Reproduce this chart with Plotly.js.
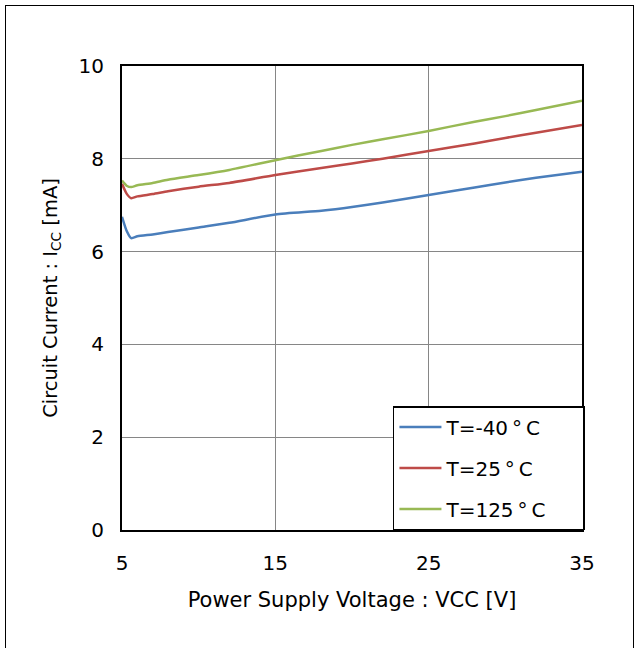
<!DOCTYPE html>
<html><head><meta charset="utf-8">
<script src="https://cdn.plot.ly/plotly-3.0.1.min.js"></script>
<style>
html,body{margin:0;padding:0;background:#fff;}
#frame{position:absolute;left:5px;top:5px;width:629px;height:660px;border:1.5px solid #000;box-sizing:border-box;}
#chart{position:absolute;left:0;top:0;width:639px;height:648px;}
</style></head>
<body>
<div id="frame"></div>
<div id="chart"></div>
<script>
const vcc = [5, 5.3, 5.6, 6, 7, 8, 10, 12, 15, 18, 20, 22, 25, 28, 30, 32, 35];
const iccM40 = [6.75, 6.45, 6.29, 6.33, 6.37, 6.42, 6.52, 6.62, 6.80, 6.88, 6.96, 7.06, 7.22, 7.38, 7.49, 7.59, 7.72];
const icc25 = [7.46, 7.25, 7.15, 7.19, 7.24, 7.30, 7.40, 7.48, 7.65, 7.80, 7.90, 8.00, 8.17, 8.33, 8.45, 8.56, 8.73];
const icc125 = [7.53, 7.42, 7.39, 7.43, 7.48, 7.55, 7.65, 7.76, 7.97, 8.17, 8.30, 8.42, 8.60, 8.80, 8.92, 9.05, 9.25];
const names = ['T=-40\u2009°\u2009C', 'T=25\u2009°\u2009C', 'T=125\u2009°\u2009C'];
const colors = ['#4a7ebb', '#be4b48', '#98b954'];
const xTicks = [5, 15, 25, 35];
const yTicks = [0, 2, 4, 6, 8, 10];

const font = "'DejaVu Sans', 'Noto Sans CJK JP', sans-serif";
const series = [iccM40, icc25, icc125];
const pad = '\u00a0\u00a0\u00a0\u00a0\u00a0';
const data = series.map((y, i) => ({
  x: vcc, y: y, type: 'scatter', mode: 'lines', name: names[i] + pad,
  legendgroup: 'g' + i,
  line: {color: colors[i], width: 2.5, shape: 'spline', smoothing: 0.6}
}));
const layout = {
  width: 639, height: 648,
  margin: {l: 122, r: 57, t: 66, b: 118},
  paper_bgcolor: 'rgba(0,0,0,0)', plot_bgcolor: '#fff',
  font: {family: font, size: 19, color: '#000'},
  showlegend: true,
  legend: {x: 0.589, y: 0.267, xanchor: 'left', yanchor: 'top',
    bordercolor: '#000', borderwidth: 1.5, bgcolor: '#fff', traceorder: 'grouped',
    itemwidth: 42,
    font: {family: font, size: 20, color: '#000'}, tracegroupgap: 12},
  xaxis: {range: [5, 35], tickvals: xTicks, ticktext: xTicks.map(String),
    showgrid: true, gridcolor: '#868686', gridwidth: 1,
    showline: true, linecolor: '#000', linewidth: 2, mirror: true,
    ticks: '', zeroline: false, ticklabelstandoff: 14,
    tickfont: {family: font, size: 20},
    title: {text: 'Power Supply Voltage : VCC [V]', font: {family: font, size: 21}, standoff: 18}},
  yaxis: {range: [0, 10], tickvals: yTicks, ticktext: yTicks.map(String),
    showgrid: true, gridcolor: '#868686', gridwidth: 1,
    showline: true, linecolor: '#000', linewidth: 2, mirror: true,
    ticks: '', zeroline: false, ticklabelstandoff: 12,
    tickfont: {family: font, size: 20},
    title: {text: 'Circuit Current : I<sub>CC</sub> [mA]', font: {family: font, size: 19.5}, standoff: 16}}
};
Plotly.newPlot('chart', data, layout, {displayModeBar: false, staticPlot: true});
</script>
</body></html>
